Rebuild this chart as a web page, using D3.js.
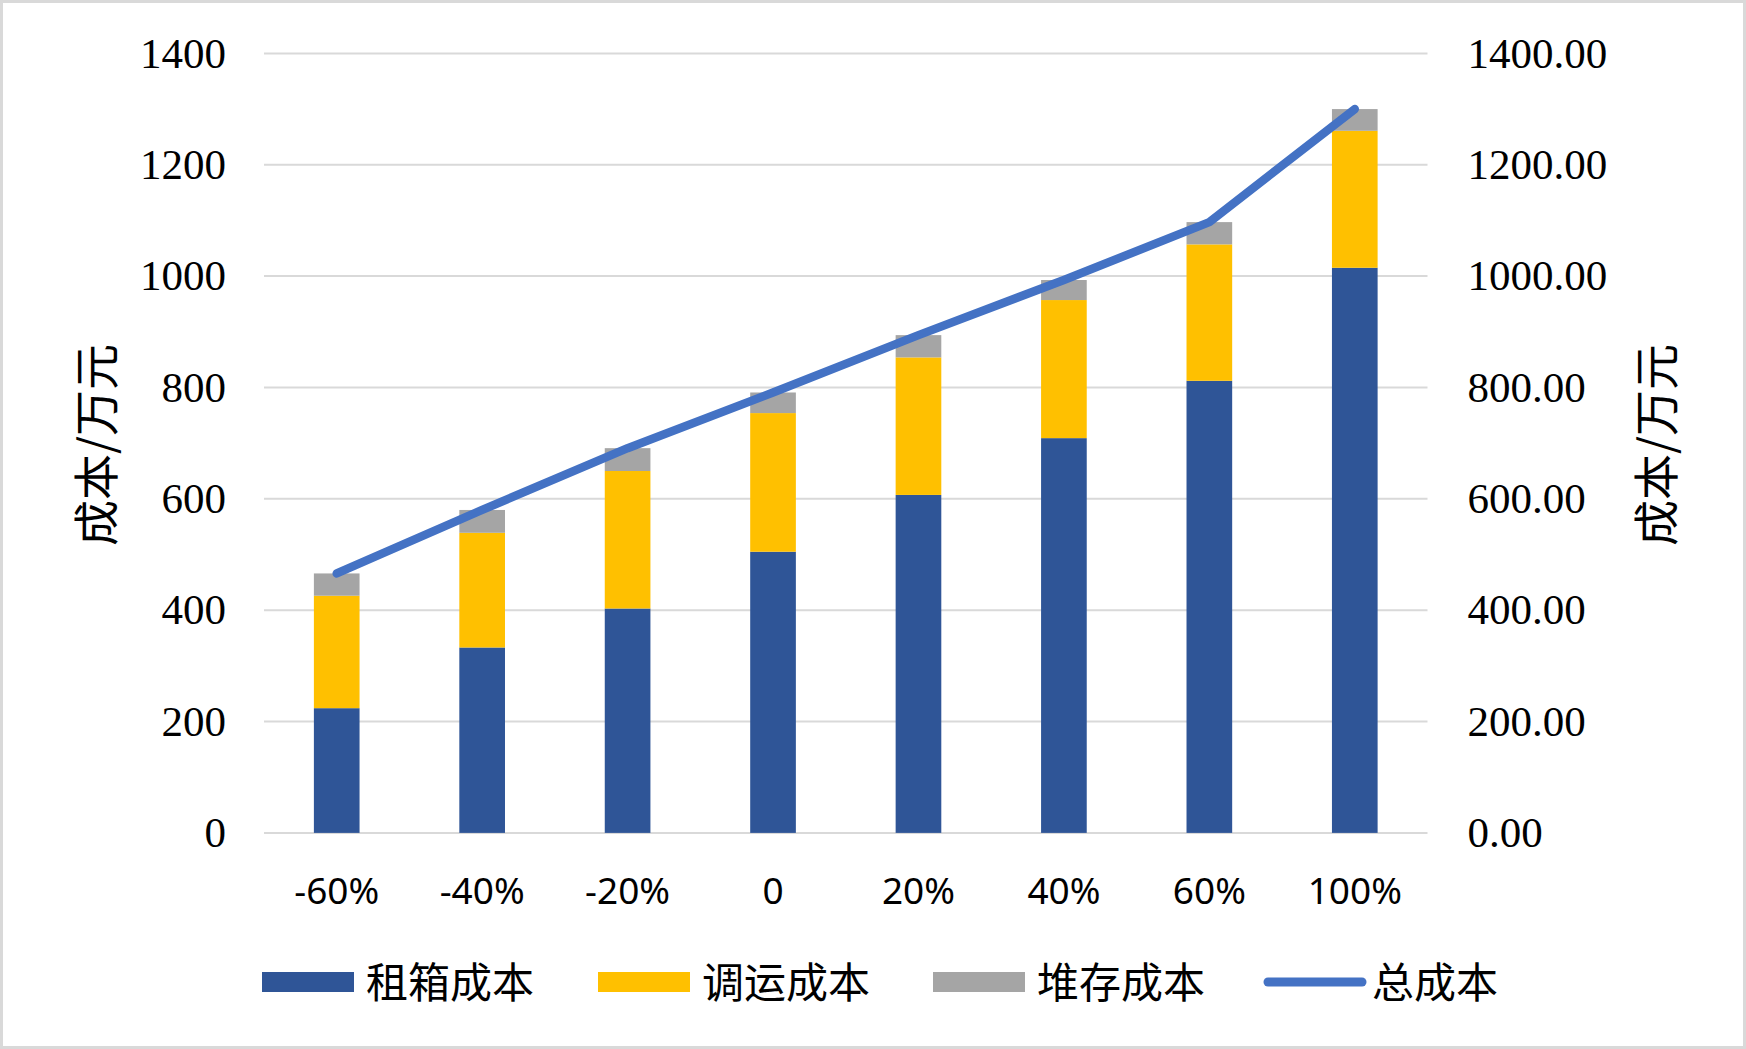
<!DOCTYPE html>
<html>
<head>
<meta charset="utf-8">
<script src="https://cdn.jsdelivr.net/npm/d3@7"></script>
<style>
  html, body { margin: 0; padding: 0; background: #fff; }
  svg { display: block; }
</style>
</head>
<body>
<svg id="chart" width="1746" height="1049"></svg>
<script>
// ---- data ----
const categories = ["-60%", "-40%", "-20%", "0", "20%", "40%", "60%", "100%"];
const rentCost = [224, 333, 403, 505, 607, 709, 812, 1015];      // 租箱成本
const dispatchCost = [202, 206, 247, 249, 247, 248, 245, 246];   // 调运成本
const storageCost = [40, 41, 41, 37, 40, 36, 40, 39];            // 堆存成本
const seriesNames = ["租箱成本", "调运成本", "堆存成本", "总成本"];
const leftTicks = [0, 200, 400, 600, 800, 1000, 1200, 1400];
const rightTicks = [0, 200, 400, 600, 800, 1000, 1200, 1400];
const axisTitle = "成本/万元";

const colors = { rent: "#2F5597", dispatch: "#FFC000", storage: "#A5A5A5", total: "#4472C4" };

const rows = categories.map((c, i) => ({
  cat: c, rent: rentCost[i], dispatch: dispatchCost[i], storage: storageCost[i],
  total: rentCost[i] + dispatchCost[i] + storageCost[i]
}));

const W = 1746, H = 1049;
const plot = { left: 264, right: 1427.5, top: 53.4, bottom: 832.9 };

const svg = d3.select("#chart");

// background + border
svg.append("rect").attr("x", 1.5).attr("y", 1.5).attr("width", W - 3).attr("height", H - 3)
  .attr("fill", "#fff").attr("stroke", "#D9D9D9").attr("stroke-width", 3);

const x = d3.scaleBand().domain(categories).range([plot.left, plot.right]).paddingInner(0).paddingOuter(0);
const y = d3.scaleLinear().domain([0, 1400]).range([plot.bottom, plot.top]);
const y2 = d3.scaleLinear().domain([0, 1400]).range([plot.bottom, plot.top]);
const barW = x.bandwidth() * 0.314;

// gridlines
svg.append("g").selectAll("line").data(leftTicks).join("line")
  .attr("x1", plot.left).attr("x2", plot.right)
  .attr("y1", d => y(d)).attr("y2", d => y(d))
  .attr("stroke", "#D9D9D9").attr("stroke-width", 2);

// left axis
const leftAxis = svg.append("g").attr("transform", `translate(${plot.left},0)`)
  .call(d3.axisLeft(y).tickValues(leftTicks).tickSize(0).tickPadding(38).tickFormat(d3.format("d")));
leftAxis.select(".domain").remove();
leftAxis.selectAll("text").attr("font-family", "'Liberation Serif', 'Times New Roman', serif")
  .attr("font-size", 43).attr("fill", "#000");

// right axis
const rightAxis = svg.append("g").attr("transform", `translate(${plot.right},0)`)
  .call(d3.axisRight(y2).tickValues(rightTicks).tickSize(0).tickPadding(40).tickFormat(d3.format(".2f")));
rightAxis.select(".domain").remove();
rightAxis.selectAll("text").attr("font-family", "'Liberation Serif', 'Times New Roman', serif")
  .attr("font-size", 43).attr("fill", "#000");

// x axis labels
const xAxis = svg.append("g").attr("transform", `translate(0,${plot.bottom})`)
  .call(d3.axisBottom(x).tickSize(0).tickPadding(45));
xAxis.select(".domain").remove();
xAxis.selectAll("text").attr("font-family", "'Noto Sans', 'Open Sans', sans-serif")
  .attr("font-size", 37).attr("fill", "#000");

// stacked bars
const stack = d3.stack().keys(["rent", "dispatch", "storage"]);
const stacked = stack(rows);
svg.append("g").selectAll("g").data(stacked).join("g")
  .attr("fill", d => colors[d.key])
  .selectAll("rect").data(d => d).join("rect")
  .attr("x", d => x(d.data.cat) + (x.bandwidth() - barW) / 2)
  .attr("width", barW)
  .attr("y", d => y(d[1]))
  .attr("height", d => y(d[0]) - y(d[1]));

// total line
const line = d3.line().x(d => x(d.cat) + x.bandwidth() / 2).y(d => y2(d.total));
svg.append("path").datum(rows).attr("d", line)
  .attr("fill", "none").attr("stroke", colors.total).attr("stroke-width", 8.5)
  .attr("stroke-linecap", "round").attr("stroke-linejoin", "round");

// axis titles
const cjk = "'Noto Sans CJK SC', 'Noto Sans', sans-serif";
svg.append("text").attr("transform", `translate(93,445) rotate(-90)`)
  .attr("text-anchor", "middle").attr("dominant-baseline", "central")
  .attr("font-family", cjk).attr("font-size", 46).attr("fill", "#000").text(axisTitle);
svg.append("text").attr("transform", `translate(1653,445) rotate(-90)`)
  .attr("text-anchor", "middle").attr("dominant-baseline", "central")
  .attr("font-family", cjk).attr("font-size", 46).attr("fill", "#000").text(axisTitle);

// legend
const legendItems = [
  { name: seriesNames[0], color: colors.rent, type: "rect", x: 262 },
  { name: seriesNames[1], color: colors.dispatch, type: "rect", x: 598 },
  { name: seriesNames[2], color: colors.storage, type: "rect", x: 933 },
  { name: seriesNames[3], color: colors.total, type: "line", x: 1264 }
];
const ly = 982;
const lg = svg.append("g");
legendItems.forEach(it => {
  if (it.type === "rect") {
    lg.append("rect").attr("x", it.x).attr("y", ly - 10).attr("width", 92).attr("height", 20).attr("fill", it.color);
  } else {
    lg.append("line").attr("x1", it.x + 4).attr("x2", it.x + 98).attr("y1", ly).attr("y2", ly)
      .attr("stroke", it.color).attr("stroke-width", 9).attr("stroke-linecap", "round");
  }
  lg.append("text").attr("x", it.x + (it.type === "rect" ? 104 : 108)).attr("y", ly - 3)
    .attr("dominant-baseline", "central")
    .attr("font-family", cjk).attr("font-size", 42).attr("fill", "#000").text(it.name);
});
</script>
</body>
</html>
